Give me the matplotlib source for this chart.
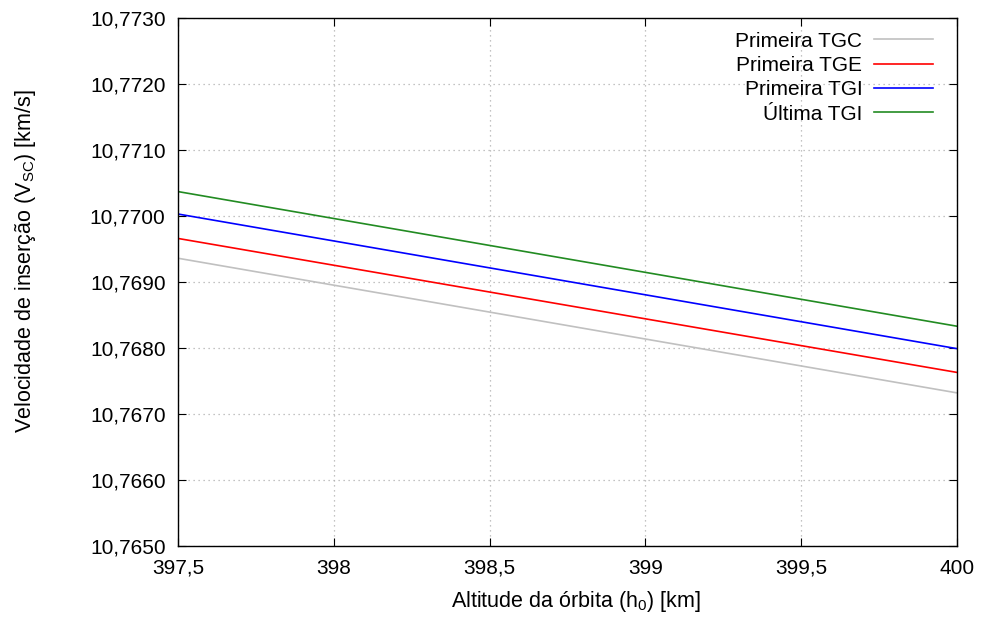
import matplotlib
matplotlib.use("Agg")
import matplotlib.pyplot as plt
from matplotlib.ticker import FixedLocator, FuncFormatter

plt.rcParams['font.family'] = ['Liberation Sans', 'DejaVu Sans']
plt.rcParams['mathtext.default'] = 'regular'

altitude = [397.5, 400.0]
series_names = ["Primeira TGC", "Primeira TGE", "Primeira TGI", "Última TGI"]
tgc = [10.76936, 10.76732]
tge = [10.76966, 10.76763]
tgi_first = [10.77003, 10.76799]
tgi_last = [10.77037, 10.76833]
colors = ["#c0c0c0", "#ff0000", "#0000ff", "#228b22"]

x_ticks = [397.5, 398.0, 398.5, 399.0, 399.5, 400.0]
x_tick_labels = ["397,5", "398", "398,5", "399", "399,5", "400"]
y_ticks = [10.765, 10.766, 10.767, 10.768, 10.769, 10.770, 10.771, 10.772, 10.773]

fig = plt.figure(figsize=(9.81, 6.21), dpi=100)
ax = fig.add_axes([178/981, 1-546/621, (957-178)/981, (546-18)/621])

for vals, name, c in zip([tgc, tge, tgi_first, tgi_last], series_names, colors):
    ax.plot(altitude, vals, color=c, lw=1.2, label=name)

ax.set_xlim(397.5, 400)
ax.set_ylim(10.765, 10.773)
ax.xaxis.set_major_locator(FixedLocator(x_ticks))
ax.set_xticklabels(x_tick_labels)
ax.yaxis.set_major_locator(FixedLocator(y_ticks))
ax.yaxis.set_major_formatter(FuncFormatter(lambda v, p: f"{v:.4f}".replace('.', ',')))

ax.grid(True, color='#b0b0b0', linestyle=(0, (1, 3)), linewidth=0.9)
ax.tick_params(direction='in', length=6, width=0.8, top=True, right=True,
               labelsize=15, pad=9)
for s in ax.spines.values():
    s.set_linewidth(1.0)
    s.set_color('black')

fig.text(576/981, 1-602/621, "Altitude da órbita (h$_0$) [km]", fontsize=15.5,
         ha='center', va='center')
fig.text(26/981, 1-261/621, "Velocidade de inserção (V$_{SC}$) [km/s]", fontsize=15.5,
         ha='center', va='center', rotation=90)

leg = ax.legend(loc='upper right', frameon=False, markerfirst=False, fontsize=15,
                handlelength=2.8, handletextpad=0.58, labelspacing=0.26,
                borderaxespad=0.0, bbox_to_anchor=((941-178)/779, 1-5.2/528))
for t in leg.get_texts():
    t.set_ha('right')
leg._legend_box.align = 'right'

fig.savefig("out.png", dpi=100, facecolor='white')
